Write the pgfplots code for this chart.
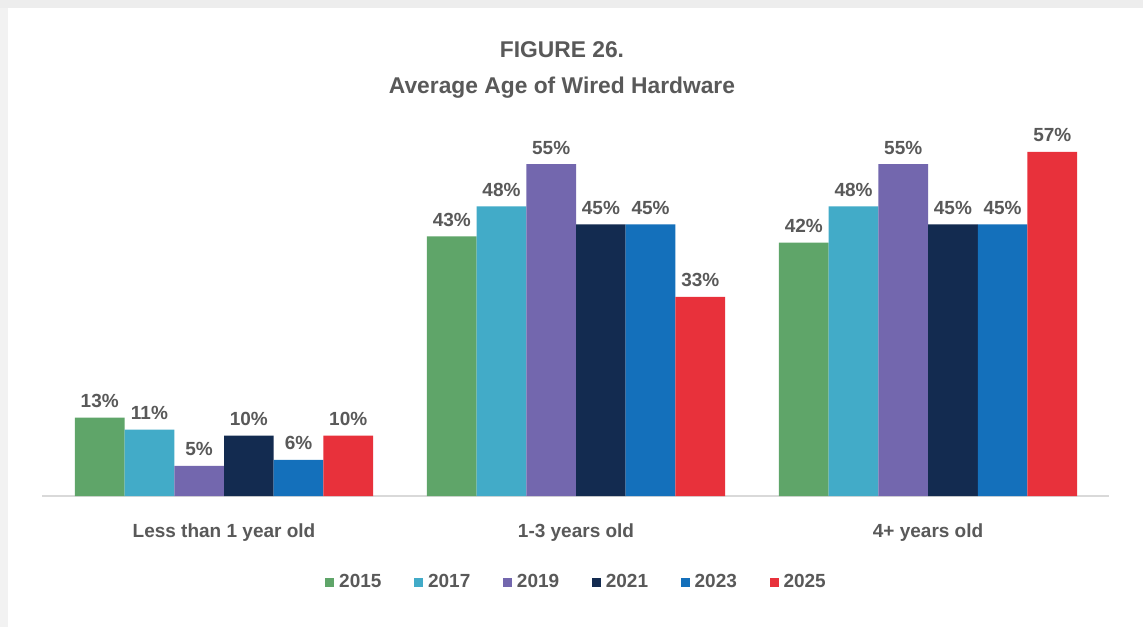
\documentclass[border=0pt]{standalone}
\usepackage{pgfplots}
\pgfplotsset{compat=1.18}
\usepackage{fontspec}
\setmainfont{Liberation Sans}
\definecolor{c15}{HTML}{5FA569}
\definecolor{c17}{HTML}{42ABC8}
\definecolor{c19}{HTML}{7367AE}
\definecolor{c21}{HTML}{132B50}
\definecolor{c23}{HTML}{1470BB}
\definecolor{c25}{HTML}{E8313B}
\definecolor{txt}{HTML}{595959}
\definecolor{axl}{HTML}{D9D9D9}
\begin{document}
\begin{tikzpicture}
\path[use as bounding box, fill=white] (0,0) rectangle (571.5pt,313.5pt);
\fill[black!7] (0,309.5pt) rectangle (571.5pt,313.5pt);
\fill[black!5] (0,0) rectangle (4pt,309.5pt);
\node[anchor=base, font=\bfseries\fontsize{11.4}{13}\selectfont, text=txt] at (281pt,284.5pt) {FIGURE 26.};
\node[anchor=base, font=\bfseries\fontsize{11.4}{13}\selectfont, text=txt] at (281pt,266.5pt) {Average Age of Wired Hardware};
\begin{axis}[
  at={(21pt,65.5pt)}, anchor=south west,
  scale only axis, width=533.5pt, height=180pt,
  xmin=-0.517, xmax=2.514, ymin=0, ymax=59.65,
  ybar=0pt, bar width=24.85pt,
  axis x line=bottom, axis y line=none,
  axis line style={draw=axl, line width=1pt, -},
  xtick={0,1,2},
  xticklabels={Less than 1 year old,1-3 years old,4+ years old},
  major tick length=0pt,
  xticklabel style={anchor=base, yshift=-20.5pt, font=\bfseries\fontsize{9.5}{11}\selectfont, text=txt},
  clip=false,
  nodes near coords={\pgfmathprintnumber[assume math mode=true]{\pgfplotspointmeta}\%},
  every node near coord/.append style={font=\bfseries\fontsize{9.5}{11}\selectfont, text=txt, anchor=base, yshift=5pt},
  legend columns=6,
  legend style={at={(0.5,-0.239)}, anchor=center, draw=none, fill=none,
    font=\bfseries\fontsize{9.5}{11}\selectfont, text=txt,
    nodes={inner sep=0pt},
    /tikz/every odd column/.style={column sep=2.5pt},
    /tikz/every even column/.style={column sep=16.3pt}},
  legend image code/.code={\fill[#1] (0pt,-2.25pt) rectangle (4.5pt,2.25pt);},
]
\addplot[fill=c15, draw=none] coordinates {(0,13) (1,43) (2,42)};
\addplot[fill=c17, draw=none] coordinates {(0,11) (1,48) (2,48)};
\addplot[fill=c19, draw=none] coordinates {(0,5) (1,55) (2,55)};
\addplot[fill=c21, draw=none] coordinates {(0,10) (1,45) (2,45)};
\addplot[fill=c23, draw=none] coordinates {(0,6) (1,45) (2,45)};
\addplot[fill=c25, draw=none] coordinates {(0,10) (1,33) (2,57)};
\legend{2015,2017,2019,2021,2023,2025}
\end{axis}
\end{tikzpicture}
\end{document}
